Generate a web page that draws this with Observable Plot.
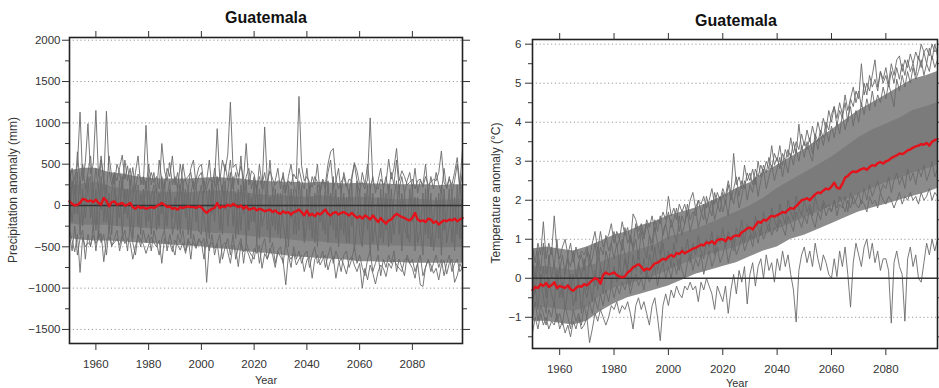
<!DOCTYPE html>
<html><head><meta charset="utf-8">
<script src="https://cdn.jsdelivr.net/npm/d3@7"></script>
<script src="https://cdn.jsdelivr.net/npm/@observablehq/plot@0.6"></script>
<style>
html,body{margin:0;padding:0;background:#fff;overflow:hidden;width:939px;height:388px;}
#wrap{position:relative;width:939px;height:388px;overflow:hidden;font-family:"Liberation Sans",Arial,Helvetica,sans-serif;color:#333;}
.panel{position:absolute;top:0;}
.title{position:absolute;font-weight:bold;font-size:16px;line-height:16px;color:#111;transform:translateX(-50%);white-space:nowrap;}
.ylab{position:absolute;font-size:12px;line-height:12px;color:#333;white-space:nowrap;transform:translate(-50%,-50%) rotate(-90deg);}
.xlab{position:absolute;font-size:11px;line-height:11px;color:#333;transform:translate(-50%,-50%);}
</style></head>
<body><div id="wrap"></div>
<script>
// ---------- shared ----------
const firstYear = 1950;
const yearTicks = [1960, 1980, 2000, 2020, 2040, 2060, 2080];
const coreYears = [1950,1955,1960,1965,1970,1975,1980,1985,1990,1995,2000,2005,2010,2015,2020,2025,2030,2035,2040,2045,2050,2055,2060,2065,2070,2075,2080,2085,2090,2095,2099];

// ---------- precipitation panel (mm) ----------
const precipTitle = "Guatemala";
const precipLabel = "Precipitation anomaly (mm)";
const precipTicks = [-1500, -1000, -500, 0, 500, 1000, 1500, 2000];
const precipMinor = [-1250, -750, -250, 250, 750, 1250, 1750];
const precipMean = [50,20,0,10,30,80,70,50,60,40, 70,30,10,90,60,-10,40,50,10,20, 30,0,10,30,-20,-40,-10,-30,-20,-40,
  -30,-20,-30,-10,10,30,10,-20,-10,-40, -30,-50,-20,-30,-20,-10,-20,-20,-30,-10, -20,-60,-90,-60,-40,-30,30,-30,-10,-20,
  10,-10,20,0,-20,0,-40,-10,-50,-40, -30,-60,-40,-50,-70,-60,-50,-80,-60,-90, -100,-70,-90,-80,-110,-80,-70,-50,-80,-120,
  -60,-120,-100,-130,-90,-110,-80,-50,-100,-120, -90,-80,-110,-90,-80,-100,-120,-90,-120,-150, -130,-160,-120,-140,-170,-120,-160,-200,-150,-190,
  -220,-180,-170,-130,-100,-120,-140,-150,-170,-180, -150,-90,-170,-190,-180,-200,-160,-170,-210,-190, -230,-200,-180,-190,-170,-180,-160,-190,-170,-150];
const precipHigh = [420,200,350,480,1130,300,520,990,380,500, 1150,350,600,280,1140,420,250,380,300,460, 610,320,480,250,460,200,380,320,250,970,
  300,400,280,350,200,750,420,300,520,250, 350,200,500,280,320,350,400,200,320,460, 500,250,200,320,300,280,930,300,550,420,
  620,1250,460,500,350,480,320,750,250,420, 380,200,350,200,950,280,420,320,250,300, 280,350,200,300,250,380,320,1320,480,300,
  350,280,220,350,280,200,320,250,500,650, 690,320,200,280,350,220,320,300,520,420, 250,280,200,320,1060,280,220,200,320,250,
  280,560,320,450,690,300,420,350,250,280, 320,200,300,320,220,350,250,280,320,300, 400,660,280,220,320,250,400,580,250,690];
const precipLow = [-300,-420,-560,-350,-810,-380,-500,-450,-480,-360, -460,-400,-340,-680,-420,-380,-480,-450,-400,-480, -360,-460,-400,-450,-650,-500,-360,-420,-470,-580,
  -480,-380,-450,-500,-420,-700,-400,-460,-450,-560, -420,-480,-540,-450,-580,-420,-480,-450,-520,-420, -460,-400,-930,-480,-450,-520,-460,-700,-480,-450,
  -560,-700,-480,-520,-740,-450,-560,-520,-600,-700, -520,-580,-480,-760,-580,-650,-520,-600,-750,-560, -620,-680,-960,-600,-650,-580,-720,-650,-600,-800,
  -660,-620,-880,-650,-600,-720,-650,-600,-780,-660, -620,-880,-700,-640,-720,-830,-660,-620,-720,-800, -700,-1000,-760,-900,-720,-820,-950,-800,-720,-760,
  -860,-700,-760,-650,-720,-760,-800,-660,-640,-700, -760,-880,-700,-960,-980,-740,-660,-720,-820,-760, -900,-720,-660,-830,-700,-650,-930,-850,-700,-780];
const precipRunA = [150,-200,250,-100,300,-250,100,350,-150,200, -300,250,-50,300,-200,150,-350,200,50,-150, 350,-100,200,-300,100,250,-250,150,-50,300,
  -200,100,250,-300,150,-100,300,-250,200,-150, 100,-300,250,-50,200,-350,150,300,-200,100, 250,-150,-400,200,-100,300,150,-300,250,-50,
  200,400,-250,150,-350,250,-100,300,-300,100, -200,250,-400,150,300,-300,100,-250,200,-350, 150,-200,-450,250,-150,200,-350,300,-100,-400,
  200,-300,100,-450,250,-200,-50,-350,300,-250, 350,-400,100,-300,150,-450,200,-250,-100,300, -350,-500,150,-300,250,-450,-200,100,-400,200,
  -300,250,-450,100,300,-350,150,-250,-400,200, -200,100,-450,-300,150,-350,200,-500,-150,100, -400,250,-300,-150,200,-450,100,-350,300,-200];
const precipRunB = [-250,300,-100,400,-350,200,-150,250,350,-300, 200,-400,350,-200,250,-300,150,400,-250,300, -350,200,-150,300,-400,100,250,-350,200,-250,
  300,-350,150,200,-250,350,-300,100,300,-350, -200,250,-350,300,-150,200,-400,100,250,-300, -350,300,150,-400,250,-200,350,100,-350,300,
  -250,150,350,-400,200,-300,300,-450,150,-200, 300,-450,200,-250,-100,250,-450,200,-300,150, -400,250,100,-500,200,-350,150,-300,250,-450,
  -250,250,-400,150,-500,200,-300,250,-450,150, -300,200,-500,250,-350,100,-450,300,-550,-200, 200,-400,-150,250,-600,150,-300,-550,200,-450,
  150,-500,200,-350,-100,250,-550,150,-300,-450, 250,-550,100,-250,-600,200,-400,150,-550,-300, 150,-600,200,-450,-250,150,-550,250,-400,100];
const precipRunC = [300,450,150,650,250,500,200,400,600,150, 450,200,550,300,150,600,350,250,500,400, 200,550,300,450,150,400,600,250,350,200,
  500,250,400,150,550,300,200,450,350,600, 250,400,150,500,300,200,450,550,250,350, 400,150,300,550,200,450,250,350,150,500,
  300,550,200,400,250,600,150,350,450,200, 350,150,500,250,400,200,550,150,300,450, 200,400,150,350,500,250,150,450,300,200,
  450,150,350,250,500,150,300,200,400,550, 200,300,450,150,400,250,150,350,500,300, 150,400,250,500,200,350,150,300,450,200,
  350,150,400,250,550,200,350,150,300,400, 200,450,150,300,250,500,150,350,200,400, 250,150,450,200,350,150,300,500,200,400];
const precipRunD = [-350,-550,-250,-600,-400,-300,-650,-350,-500,-250, -550,-300,-450,-350,-600,-250,-500,-400,-300,-550, -400,-300,-550,-250,-450,-600,-350,-500,-300,-450,
  -350,-550,-300,-450,-600,-400,-300,-550,-350,-500, -600,-350,-450,-300,-550,-400,-650,-350,-500,-400, -450,-650,-400,-550,-350,-600,-450,-350,-650,-500,
  -400,-600,-350,-650,-500,-400,-700,-450,-550,-600, -650,-450,-700,-500,-400,-650,-550,-450,-700,-550, -500,-700,-450,-600,-750,-500,-650,-550,-700,-600,
  -550,-750,-600,-500,-700,-650,-550,-750,-600,-500, -700,-550,-650,-800,-600,-550,-750,-650,-500,-700, -600,-750,-850,-650,-550,-800,-700,-600,-850,-650,
  -750,-600,-700,-550,-800,-650,-750,-850,-600,-700, -650,-800,-700,-600,-850,-750,-650,-800,-700,-600, -750,-650,-850,-700,-600,-800,-700,-650,-800,-750];
const precipOuterHigh = [420,450,450,400,380,350,330,320,320,320,330,340,330,320,300,290,280,280,270,280,270,260,270,260,260,250,250,250,240,250,250];
const precipOuterLow = [-400,-420,-430,-430,-440,-450,-460,-470,-480,-490,-500,-520,-530,-550,-570,-580,-600,-620,-630,-640,-650,-660,-680,-680,-690,-690,-700,-700,-700,-700,-700];
const precipInnerHigh = [220,260,280,240,200,180,170,160,160,150,170,180,170,160,140,120,120,110,100,120,100,90,100,90,80,70,80,70,60,70,70];
const precipInnerLow = [-220,-240,-240,-240,-260,-270,-280,-290,-290,-300,-320,-340,-340,-360,-380,-390,-400,-420,-440,-440,-460,-470,-480,-480,-490,-490,-500,-500,-510,-510,-510];

// ---------- temperature panel (°C) ----------
const tempTitle = "Guatemala";
const tempLabel = "Temperature anomaly (°C)";
const tempTicks = [-1, 0, 1, 2, 3, 4, 5, 6];
const tempMinor = [-1.5, -0.5, 0.5, 1.5, 2.5, 3.5, 4.5, 5.5];
const tempMean = [-0.30,-0.22,-0.25,-0.15,-0.20,-0.12,-0.22,-0.18,-0.10,-0.25, -0.20,-0.22,-0.25,-0.18,-0.28,-0.32,-0.25,-0.20,-0.22,-0.15,
  -0.18,-0.12,-0.05,0.00,-0.02,-0.14,0.08,0.15,0.10,0.12, 0.15,0.08,0.05,0.02,0.05,0.15,0.20,0.28,0.32,0.36,
  0.30,0.20,0.25,0.22,0.30,0.38,0.40,0.45,0.50,0.48, 0.55,0.60,0.55,0.65,0.62,0.70,0.64,0.68,0.72,0.76,
  0.78,0.82,0.86,0.84,0.92,0.90,0.95,0.88,0.98,1.00, 1.00,0.95,1.05,1.00,1.08,1.10,1.08,1.18,1.22,1.28,
  1.30,1.25,1.35,1.45,1.42,1.50,1.48,1.55,1.60,1.58, 1.62,1.65,1.70,1.68,1.75,1.80,1.78,1.85,1.92,2.00,
  2.02,2.05,2.00,2.08,2.15,2.20,2.18,2.25,2.30,2.28, 2.35,2.45,2.32,2.30,2.42,2.58,2.62,2.70,2.74,2.72,
  2.76,2.80,2.82,2.78,2.85,2.90,2.88,2.95,2.98,2.94, 3.00,3.02,3.08,3.12,3.15,3.20,3.18,3.22,3.28,3.30,
  3.35,3.38,3.40,3.44,3.42,3.47,3.40,3.50,3.54,3.57];
const tempHigh = [0.8,0.4,0.9,0.6,1.45,0.5,0.9,0.6,1.6,0.7, 0.5,0.8,1.0,0.6,0.9,0.4,0.8,0.5,0.7,0.6, 0.8,0.5,0.9,1.2,0.7,1.2,0.8,1.0,1.1,1.4,
  0.9,1.2,1.0,1.45,1.1,1.3,0.9,1.65,1.5,1.2, 1.4,1.1,1.5,1.3,1.6,1.2,1.5,1.4,1.7,1.5, 2.1,1.6,1.8,1.5,1.9,1.7,1.9,1.6,2.0,2.2,
  1.8,2.0,1.9,2.1,1.8,2.0,2.3,1.9,2.2,2.0, 2.3,2.1,2.5,2.2,3.2,2.4,2.6,2.3,2.9,2.5, 2.7,2.4,2.8,2.6,2.9,2.7,3.0,2.8,3.4,2.9,
  3.1,2.8,3.2,3.0,3.3,3.1,3.5,3.2,3.95,3.3, 3.5,3.3,3.6,3.2,3.7,3.5,3.8,3.6,4.0,3.8, 4.2,4.4,3.9,4.3,4.1,4.5,4.0,4.6,4.4,4.8,
  4.6,5.5,4.7,5.0,4.8,5.2,5.6,4.9,5.3,5.1, 5.4,5.0,5.5,5.2,5.6,5.7,5.3,5.6,5.4,5.75, 5.5,5.8,5.6,6.0,5.8,5.9,5.7,6.0,5.8,5.9];
const tempLow = [-1.4,-1.0,-1.3,-0.9,-1.2,-1.0,-1.3,-1.1,-1.2,-0.9, -1.3,-1.1,-1.4,-1.2,-1.5,-1.1,-1.3,-1.0,-1.3,-1.2, -1.0,-1.65,-1.3,-0.9,-1.1,-0.8,-1.0,-1.2,-1.0,-0.7,
  -0.8,-0.6,-0.9,-0.7,-0.8,-0.6,-0.9,-1.3,-0.7,-0.5, -0.8,-0.6,-0.9,-1.2,-0.7,-0.5,-1.0,-1.6,-0.7,-0.4, -0.7,-0.3,-0.5,-0.2,-0.4,-0.5,-0.2,-0.3,-0.1,-0.3,
  -0.2,-0.6,-0.1,-0.3,0.0,-0.2,-0.4,-0.8,-0.2,-0.4, -0.6,-0.2,-0.9,-0.3,0.1,-0.4,0.2,-0.1,0.3,-0.66, 0.1,0.4,-0.2,0.3,0.5,0.0,0.6,0.2,0.4,-0.1,
  0.5,0.2,0.7,0.3,0.6,0.1,-0.3,-1.12,0.2,0.6, 0.8,0.4,0.7,0.3,0.9,0.5,0.2,0.6,0.4,0.1, 0.0,0.5,0.04,0.7,0.3,0.8,0.1,-0.74,0.4,0.9,
  0.6,0.3,0.8,1.0,0.5,0.9,0.4,0.7,0.2,0.5, 0.5,0.2,-1.15,0.4,0.7,0.3,0.1,-1.1,0.5,0.8, 0.3,0.6,0.0,-0.1,0.4,0.9,0.6,1.0,0.7,1.0];
const tempRunA = [-0.6,-0.2,-0.8,0.1,-0.5,-0.9,0.0,-0.4,-0.7,0.2, -0.5,-0.1,-0.8,-0.3,0.1,-0.7,-0.4,0.0,-0.9,-0.2, -0.5,-0.1,-0.6,0.2,-0.3,0.3,-0.4,0.1,0.4,-0.2,
  0.3,-0.1,0.4,0.0,0.5,0.1,-0.2,0.6,0.2,0.7, 0.1,0.5,0.0,0.6,0.3,0.8,0.2,0.5,0.9,0.4, 0.7,0.3,0.9,0.5,0.2,0.8,0.6,1.0,0.4,0.9,
  0.6,1.1,0.7,0.5,1.0,0.8,1.2,0.6,1.1,0.9, 1.3,0.8,1.2,1.0,0.7,1.3,1.1,1.5,0.9,1.4, 1.2,1.0,1.6,1.3,1.1,1.7,1.4,1.2,1.8,1.5,
  1.3,1.9,1.6,1.4,2.0,1.7,1.5,2.1,1.8,1.6, 2.0,1.7,1.9,1.6,2.1,1.8,1.7,2.0,1.8,1.9, 1.7,2.0,1.8,2.1,1.9,1.7,2.0,1.8,2.1,1.9,
  1.8,2.0,1.9,1.7,2.1,1.9,2.0,1.8,2.2,2.0, 1.9,2.1,2.0,1.8,2.0,2.2,1.9,2.1,2.0,2.2, 2.0,2.1,1.9,2.2,2.0,2.1,2.3,2.0,2.2,2.1];
const tempRunB = [0.2,-0.4,0.5,-0.2,0.3,-0.5,0.6,0.0,0.4,-0.3, 0.3,-0.5,0.2,0.6,-0.4,0.1,-0.6,0.4,0.0,0.5, -0.3,0.6,0.2,-0.2,0.8,0.3,0.0,0.7,0.4,0.9,
  0.5,0.9,0.3,1.0,0.6,0.2,1.1,0.7,1.0,0.5, 1.2,0.8,0.5,1.1,0.7,1.3,0.9,0.6,1.2,1.4, 1.0,1.5,1.2,0.9,1.6,1.1,1.4,1.7,1.2,1.5,
  1.8,1.3,1.6,1.9,1.4,1.7,2.0,1.5,1.8,2.1, 1.7,2.0,1.6,2.2,1.9,2.3,1.8,2.1,2.5,2.0, 2.4,2.2,2.6,2.1,2.5,2.8,2.3,2.6,2.9,2.5,
  2.8,3.1,2.6,3.0,2.7,3.2,2.9,3.3,3.0,3.4, 3.1,3.5,3.2,3.0,3.6,3.3,3.7,3.4,3.8,3.5, 3.9,3.6,4.0,3.7,4.2,3.8,4.1,4.4,3.9,4.3,
  4.0,4.5,4.2,4.6,4.3,4.8,4.4,4.7,4.5,4.9, 4.6,5.0,4.7,4.4,5.1,4.8,5.2,4.9,5.3,5.0, 5.4,5.1,5.3,5.6,5.2,5.5,5.3,5.7,5.4,5.6];
const tempRunC = [0.5,0.0,0.7,0.2,0.9,0.1,0.4,0.8,0.3,1.0, 0.2,0.6,0.1,0.5,0.3,0.7,0.0,0.4,0.6,0.2, 0.7,0.3,0.5,0.9,0.4,0.8,0.6,1.1,0.7,0.9,
  1.2,0.8,1.0,0.7,1.3,0.9,1.1,0.8,1.4,1.0, 1.3,1.0,1.4,1.1,0.9,1.5,1.2,1.6,1.1,1.4, 1.7,1.3,1.5,1.8,1.2,1.6,1.4,1.9,1.5,1.7,
  1.6,2.0,1.7,1.5,2.1,1.8,1.6,2.2,1.9,1.7, 2.2,1.9,2.4,2.0,2.3,2.6,2.1,2.5,2.3,2.7, 2.5,2.8,2.4,3.0,2.6,2.9,2.7,3.1,2.8,3.2,
  3.0,3.4,2.9,3.3,3.1,3.6,3.2,3.5,3.3,3.7, 3.4,3.8,3.5,3.9,3.6,4.0,3.7,4.1,3.8,4.3, 4.0,4.4,4.1,4.5,4.2,4.7,4.3,4.6,4.9,4.5,
  4.8,4.4,5.0,4.7,5.2,4.9,5.1,4.8,5.3,5.0, 5.2,4.9,5.3,5.0,5.4,5.1,5.5,5.2,5.6,5.3, 5.5,5.2,5.7,5.4,5.8,5.5,5.9,5.6,6.0,5.7];
const tempRunD = [-1.0,-0.6,-1.1,-0.7,-0.9,-1.2,-0.8,-1.0,-0.6,-1.1, -0.9,-1.2,-0.7,-1.0,-1.3,-0.8,-1.1,-0.9,-1.2,-0.7, -1.0,-0.6,-0.9,-0.5,-0.8,-0.4,-0.7,-0.3,-0.6,-0.2,
  -0.5,-0.2,-0.4,-0.1,-0.3,0.0,-0.4,-0.1,0.1,-0.2, 0.0,-0.3,0.2,-0.1,0.1,0.3,-0.2,0.2,0.4,0.0, 0.3,0.0,0.4,0.1,0.5,0.2,0.0,0.4,0.6,0.2,
  0.5,0.3,0.6,0.1,0.4,0.7,0.3,0.5,0.8,0.4, 0.6,0.9,0.4,0.7,1.0,0.6,0.8,1.1,0.7,0.9, 1.1,0.8,1.2,0.9,1.3,1.0,1.2,1.4,1.1,1.3,
  1.2,1.5,1.3,1.1,1.6,1.4,1.2,1.7,1.5,1.3, 1.6,1.4,1.8,1.5,1.3,1.7,1.5,1.9,1.6,1.8, 1.7,2.0,1.6,1.9,1.8,2.1,1.7,2.2,1.9,2.0,
  2.2,1.9,2.3,2.0,2.4,2.1,2.3,2.5,2.2,2.4, 2.3,2.6,2.2,2.5,2.7,2.4,2.6,2.3,2.8,2.5, 2.7,2.4,2.8,2.6,2.9,2.5,2.7,3.0,2.6,2.8];
const tempOuterHigh = [0.75,0.8,0.75,0.7,0.8,0.95,1.1,1.2,1.35,1.45,1.6,1.7,1.8,1.95,2.1,2.3,2.45,2.7,2.9,3.1,3.3,3.55,3.8,4.05,4.3,4.5,4.7,4.9,5.1,5.2,5.3];
const tempOuterLow = [-1.1,-1.1,-1.15,-1.2,-1.1,-0.85,-0.65,-0.5,-0.4,-0.3,-0.2,-0.05,0.1,0.2,0.3,0.4,0.55,0.7,0.8,1.0,1.1,1.25,1.4,1.55,1.7,1.8,1.9,2.0,2.1,2.2,2.3];
const tempInnerHigh = [0.3,0.3,0.25,0.2,0.3,0.4,0.55,0.65,0.75,0.85,1.05,1.15,1.25,1.4,1.55,1.7,1.85,2.05,2.3,2.5,2.7,2.9,3.1,3.35,3.6,3.8,3.95,4.1,4.3,4.4,4.5];
const tempInnerLow = [-0.75,-0.75,-0.8,-0.85,-0.75,-0.45,-0.25,-0.15,-0.05,0.05,0.2,0.35,0.5,0.6,0.7,0.8,0.95,1.1,1.25,1.4,1.55,1.7,1.85,2.0,2.15,2.3,2.45,2.55,2.7,2.8,2.9];

// ---------- build ----------
const FONT = '"Liberation Sans",Arial,Helvetica,sans-serif';
const rows = (vals, run) => vals.map((v, i) => ({year: firstYear + i, value: v, run}));
const band = (lo, hi) => coreYears.map((y, i) => ({year: y, lo: lo[i], hi: hi[i]}));
const fmt = d => String(d).replace("-", "\u2212");
const blank = () => "";

function panel(o) {
  const gray = [].concat(...o.runs.map((r, k) => rows(r, "r" + k)));
  return Plot.plot({
    width: o.width, height: 388,
    marginLeft: o.ml, marginRight: o.mr, marginTop: o.mt, marginBottom: o.mb,
    x: {domain: [1950, 2099], label: null},
    y: {domain: o.ydomain, label: null},
    style: {fontFamily: FONT, fontSize: "11.5px", color: "#333", background: "transparent", overflow: "visible"},
    marks: [
      Plot.ruleY(o.ticks, {stroke: "#9a9a9a", strokeDasharray: "1.2,2.6", strokeWidth: 1}),
      Plot.areaY(band(o.outerLow, o.outerHigh), {x: "year", y1: "lo", y2: "hi", fill: "#8c8c8c"}),
      Plot.areaY(band(o.innerLow, o.innerHigh), {x: "year", y1: "lo", y2: "hi", fill: "#7b7b7b"}),
      Plot.line(gray, {x: "year", y: "value", z: "run", stroke: "#6a6a6a", strokeWidth: 0.9}),
      Plot.ruleY([0], {stroke: "#333", strokeWidth: 1.6}),
      Plot.line(rows(o.mean, "mean"), {x: "year", y: "value", stroke: "#e3121b", strokeWidth: 2.4}),
      Plot.frame({stroke: "#222", strokeWidth: 1.6}),
      Plot.axisY({ticks: o.ticks, anchor: "left", tickSize: 7, tickPadding: o.tp, tickFormat: fmt, label: null}),
      Plot.axisY({ticks: o.minor, anchor: "left", tickSize: 4, tickFormat: blank, label: null}),
      Plot.axisY({ticks: o.ticks, anchor: "right", tickSize: 7, tickFormat: blank, label: null}),
      Plot.axisY({ticks: o.minor, anchor: "right", tickSize: 4, tickFormat: blank, label: null}),
      Plot.axisX({ticks: yearTicks, anchor: "bottom", tickSize: 7, tickPadding: 9, tickFormat: d => String(d), label: null}),
      Plot.axisX({ticks: yearTicks, anchor: "top", tickSize: 7, tickFormat: blank, label: null})
    ]
  });
}

const wrap = document.getElementById("wrap");
function place(node, left) { node.classList.add("panel"); node.style.left = left + "px"; wrap.appendChild(node); }
function div(cls, text, x, y) { const d = document.createElement("div"); d.className = cls; d.textContent = text; d.style.left = x + "px"; d.style.top = y + "px"; wrap.appendChild(d); }

place(panel({width: 470, ml: 69, mr: 8, mt: 37, mb: 45, tp: 2, ydomain: [-1670, 2033],
  ticks: precipTicks, minor: precipMinor, mean: precipMean,
  runs: [precipHigh, precipLow, precipRunA, precipRunB, precipRunC, precipRunD],
  outerLow: precipOuterLow, outerHigh: precipOuterHigh, innerLow: precipInnerLow, innerHigh: precipInnerHigh}), 0);
place(panel({width: 480, ml: 62, mr: 13, mt: 39, mb: 40, tp: 4, ydomain: [-1.8, 6.12],
  ticks: tempTicks, minor: tempMinor, mean: tempMean,
  runs: [tempHigh, tempLow, tempRunA, tempRunB, tempRunC, tempRunD],
  outerLow: tempOuterLow, outerHigh: tempOuterHigh, innerLow: tempInnerLow, innerHigh: tempInnerHigh}), 470);

div("title", precipTitle, 266, 10);
div("title", tempTitle, 736, 13);
div("ylab", precipLabel, 13, 190);
div("ylab", tempLabel, 496, 193);
div("xlab", "Year", 266, 380);
div("xlab", "Year", 737, 383);
</script>
</body></html>
